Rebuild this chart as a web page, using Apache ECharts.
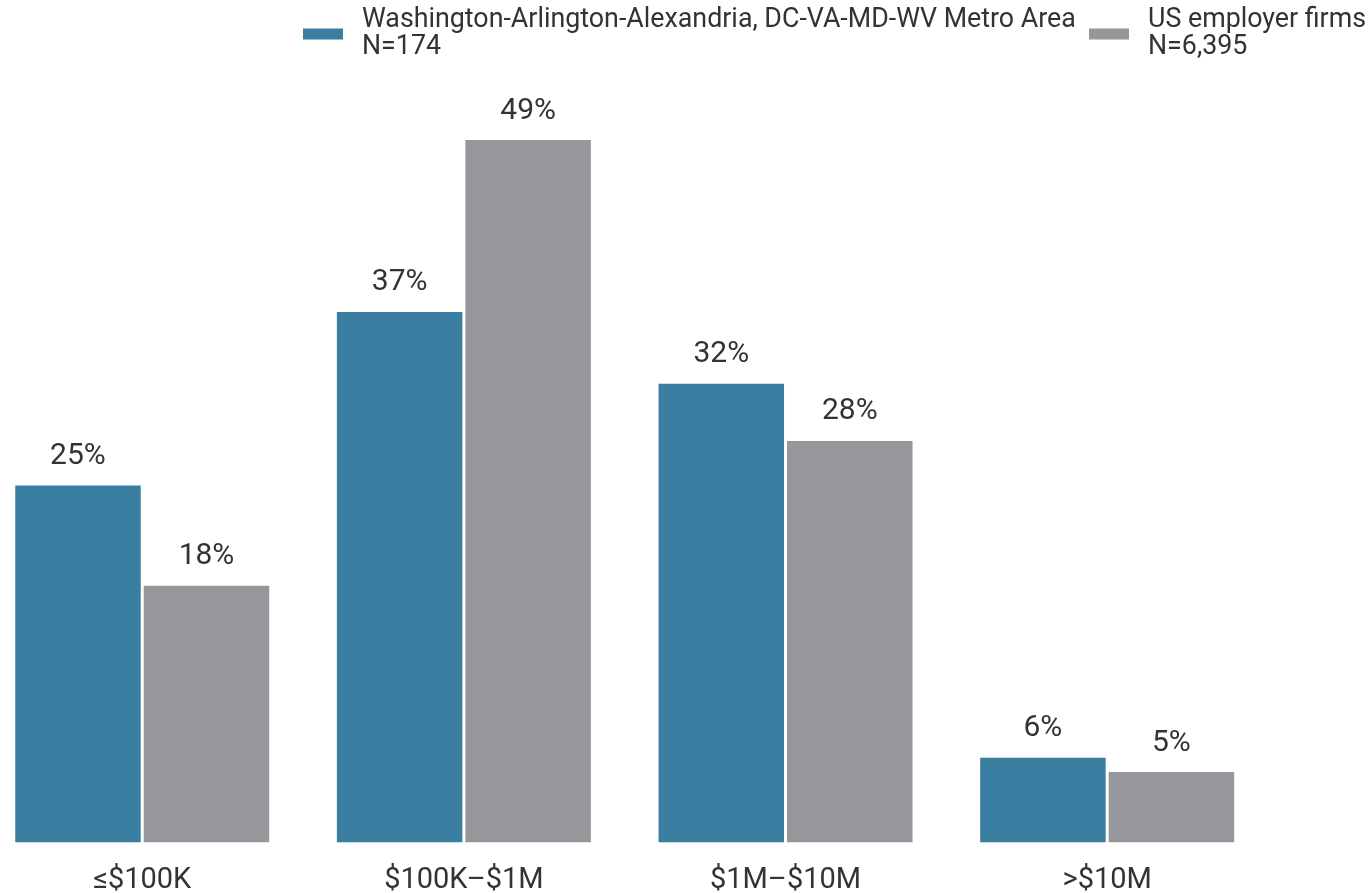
<!DOCTYPE html>
<html>
<head>
<meta charset="utf-8">
<script src="https://cdn.jsdelivr.net/npm/echarts@6/dist/echarts.min.js"></script>
<style>
html,body{margin:0;padding:0;background:#fff;}
#chart{width:1372px;height:893px;}
</style>
</head>
<body>
<div id="chart"></div>
<script>
const categories = ['≤$100K', '$100K–$1M', '$1M–$10M', '>$10M'];
const seriesNames = ['Washington-Arlington-Alexandria, DC-VA-MD-WV Metro Area', 'US employer firms'];
const sampleSizes = ['N=174', 'N=6,395'];
const metroValues = [24.9, 37, 32, 5.9];
const usValues = [17.9, 49, 28, 4.9];

const FONT = 'Roboto, "Noto Sans", sans-serif';
const chart = echarts.init(document.getElementById('chart'), null, {renderer: 'canvas'});

function legendFor(i, left) {
  return {
    data: [seriesNames[i]],
    left: left,
    top: 7,
    padding: 0,
    orient: 'horizontal',
    icon: 'rect',
    itemWidth: 40,
    itemHeight: 11,
    selectedMode: false,
    formatter: function (name) { return name + '\n' + sampleSizes[i]; },
    textStyle: {
      fontFamily: FONT,
      fontSize: 26.8,
      lineHeight: 27,
      color: '#333333',
      padding: [0, 0, 0, 14]
    }
  };
}

const pctLabel = function (p) { return Math.round(p.value) + '%'; };

chart.setOption({
  animation: false,
  backgroundColor: '#ffffff',
  legend: [legendFor(0, 303), legendFor(1, 1089)],
  grid: {left: -18.6, right: 104, top: 140, bottom: 50.7, containLabel: false, outerBoundsMode: 'none'},
  xAxis: {
    type: 'category',
    data: categories,
    axisLine: {show: false},
    axisTick: {show: false},
    axisLabel: {fontFamily: FONT, fontSize: 29, color: '#333333', margin: 24}
  },
  yAxis: {
    type: 'value',
    min: 0,
    max: 49,
    show: false
  },
  series: [
    {
      name: seriesNames[0],
      type: 'bar',
      data: metroValues,
      barWidth: 125.5,
      barGap: '2.4%',
      itemStyle: {color: '#3a7ea1'},
      label: {show: true, position: 'top', distance: 14, formatter: pctLabel, fontFamily: FONT, fontSize: 30, color: '#333333'}
    },
    {
      name: seriesNames[1],
      type: 'bar',
      data: usValues,
      barWidth: 125.5,
      itemStyle: {color: '#96979b'},
      label: {show: true, position: 'top', distance: 14, formatter: pctLabel, fontFamily: FONT, fontSize: 30, color: '#333333'}
    }
  ]
});
</script>
</body>
</html>
